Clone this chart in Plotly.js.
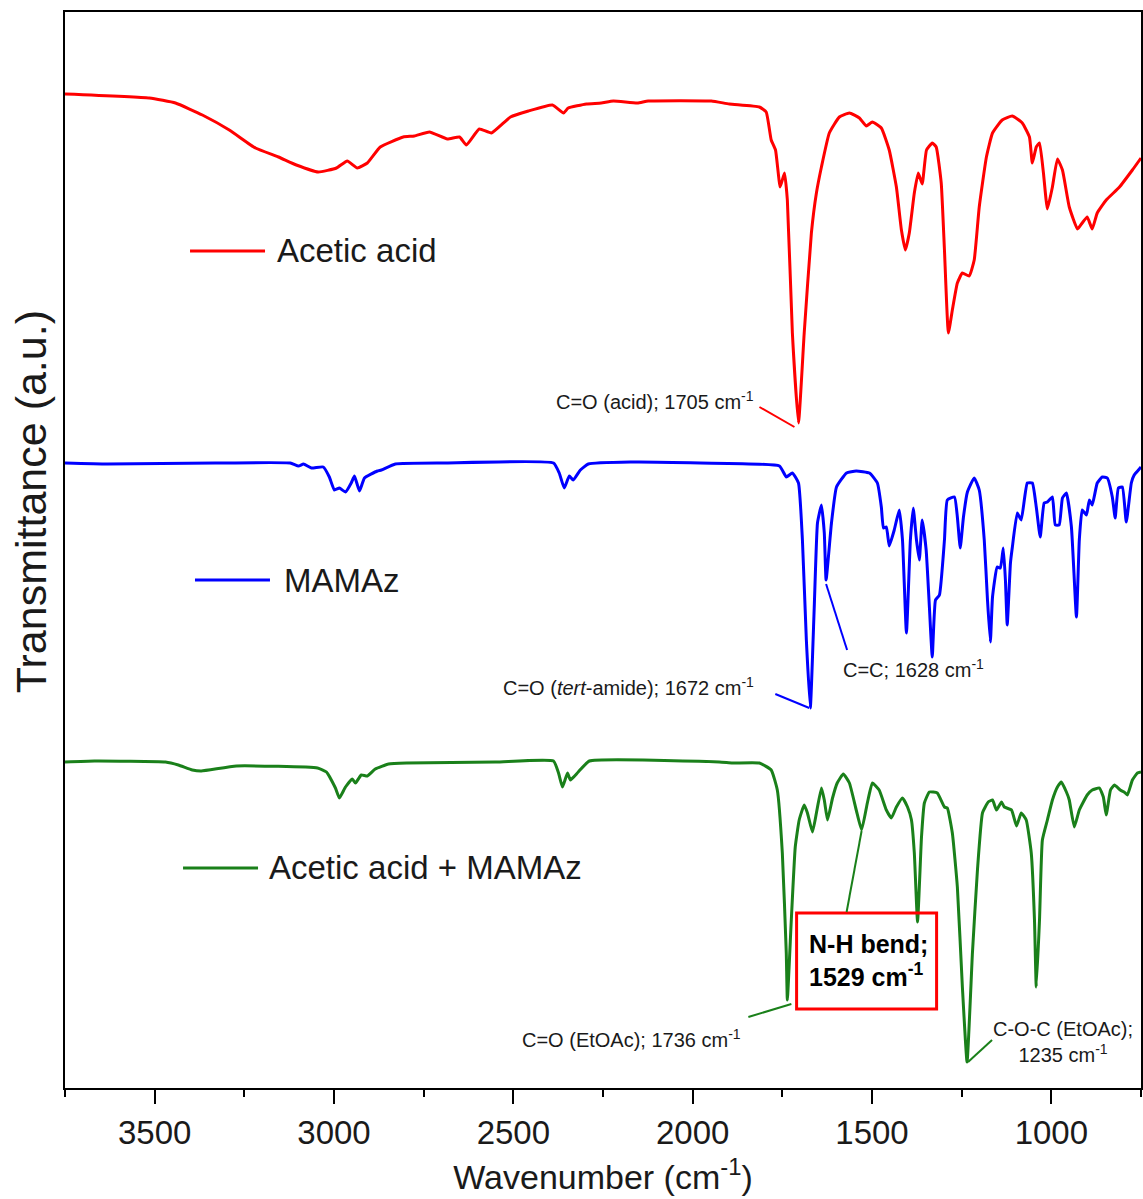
<!DOCTYPE html>
<html>
<head>
<meta charset="utf-8">
<script src="https://cdn.plot.ly/plotly-3.0.1.min.js"></script>
<style>html,body{margin:0;padding:0;background:#fff;}#chart{width:1143px;height:1199px;}</style>
</head>
<body>
<div id="chart"></div>
<script>
// ---- Data (wavenumber in cm-1, transmittance in a.u., offset-stacked) ----
const acidWn = [3750,3515,3442,3367,3292,3219,3155,3105,3044,2993,2963,2935,2907,2871,2807,2776,2734,2684,2650,2631,2595,2561,2508,2458,2391,2360,2347,2296,2255,2221,2154,2124,1948,1898,1814,1795,1781,1769,1756,1744,1736,1722,1705,1689,1669,1655,1641,1619,1591,1563,1535,1516,1499,1474,1452,1432,1418,1407,1396,1382,1371,1360,1348,1332,1321,1307,1298,1287,1276,1262,1248,1229,1215,1201,1181,1164,1137,1109,1081,1061,1053,1042,1033,1022,1011,997,983,969,950,927,914,900,886,872,847,810,774,750];
const acidT  = [994,990,985,973,958,940,931,923,916,920,927,920,925,941,951,952,956,949,951,943,959,955,971,977,983,975,980,984,985,987,985,987,987,984,981,976,948,938,901,915,888,755,665,755,855,895,921,955,971,975,970,962,966,960,938,901,858,838,855,895,915,904,938,945,941,905,838,755,778,805,815,812,828,881,931,955,968,972,965,951,925,941,945,915,879,901,929,918,881,859,865,871,859,875,888,901,918,930];

const mamazWn = [3750,3632,3331,3122,3099,3085,3063,3030,3013,2999,2985,2968,2952,2943,2929,2915,2879,2868,2829,2695,2388,2372,2358,2344,2333,2313,2291,2174,1979,1758,1739,1722,1705,1694,1683,1672,1661,1652,1641,1633,1628,1613,1599,1571,1544,1507,1485,1474,1468,1460,1452,1438,1424,1415,1404,1393,1385,1376,1368,1360,1349,1340,1332,1323,1312,1298,1290,1270,1262,1254,1245,1234,1215,1201,1187,1178,1170,1164,1151,1142,1134,1128,1123,1114,1109,1095,1084,1067,1053,1042,1031,1020,1011,997,989,978,969,958,944,930,922,914,902,894,886,872,858,844,830,822,813,802,791,777,769,757,750];
const mamazT  = [625,624,625,625,622,624,620,621,611,598,600,596,605,612,597,610,617,618,624,625,625,615,600,612,608,618,624,626,625,622,611,615,605,548,448,380,481,565,583,555,508,565,601,615,617,615,605,581,560,561,542,558,578,548,455,548,580,548,528,568,538,481,431,488,493,548,588,591,571,540,571,596,610,598,548,488,446,491,521,520,540,508,463,525,540,575,568,605,605,581,551,585,586,591,563,563,590,595,561,471,548,578,573,588,583,605,611,610,591,570,600,601,566,605,613,618,621];

const mixWn = [3750,3668,3470,3434,3395,3370,3272,3046,3021,2996,2985,2968,2949,2940,2924,2907,2885,2848,2798,2550,2388,2374,2363,2349,2341,2319,2288,1926,1889,1814,1781,1764,1750,1739,1736,1725,1714,1703,1689,1680,1666,1655,1641,1633,1624,1610,1597,1580,1563,1544,1529,1513,1499,1480,1460,1446,1432,1415,1401,1390,1382,1373,1362,1354,1340,1318,1298,1290,1276,1262,1248,1235,1220,1206,1192,1176,1164,1153,1139,1131,1111,1097,1084,1070,1056,1047,1042,1033,1025,1011,997,983,972,958,950,936,922,900,886,866,855,847,835,824,808,797,788,774,760,750];
const mixT  = [326,327,326,323,318,317,322,320,316,300,290,301,309,305,313,312,319,324,325,326,327,315,301,315,308,316,327,326,325,325,318,298,235,135,88,168,241,268,283,275,256,275,300,288,268,290,305,314,305,278,258,285,305,298,278,270,281,290,281,268,235,166,251,285,296,295,281,280,255,201,101,26,135,218,275,286,288,278,286,281,278,262,275,268,235,168,101,168,248,268,288,301,306,296,288,261,278,293,298,300,291,273,298,303,298,296,293,308,315,316];

const seriesNames = ["Acetic acid", "MAMAz", "Acetic acid + MAMAz"];
const seriesColors = ["#ff0000", "#0000ff", "#1a801a"];

// Peak labels: [series index, peak wavenumber, text]
const peakLabels = [
  [0, 1705, "C=O (acid); 1705 cm<sup>-1</sup>"],
  [1, 1672, "C=O (<i>tert</i>-amide); 1672 cm<sup>-1</sup>"],
  [1, 1628, "C=C; 1628 cm<sup>-1</sup>"],
  [2, 1736, "C=O (EtOAc); 1736 cm<sup>-1</sup>"],
  [2, 1529, "<b>N-H bend;</b><br><b>1529 cm<sup>-1</sup></b>"],
  [2, 1235, "C-O-C (EtOAc);<br>1235 cm<sup>-1</sup>"]
];

const xTicks = [3500, 3000, 2500, 2000, 1500, 1000];

// ---- Build ----
const wnArr = [acidWn, mamazWn, mixWn];
const tArr = [acidT, mamazT, mixT];
const traces = wnArr.map((wn, i) => ({
  type: 'scatter', mode: 'lines', x: wn, y: tArr[i], name: seriesNames[i],
  line: {color: seriesColors[i], width: 3, shape: 'spline', smoothing: 0.4},
  showlegend: false, hoverinfo: 'x+y+name'
}));

function valueAt(si, w) {
  const wn = wnArr[si], t = tArr[si];
  let best = 0;
  for (let k = 0; k < wn.length; k++) if (Math.abs(wn[k]-w) < Math.abs(wn[best]-w)) best = k;
  return t[best];
}

const FONT = 'Arial, "Liberation Sans", Helvetica, sans-serif';
const txtColor = '#1a1a1a';

// label placement (pixel offsets from the peak)
const labelStyle = [
  {xanchor:'right', xshift:-42, yshift:23, line:[-39,16,-4,-4]},
  {xanchor:'right', xshift:-54, yshift:22, line:[-35,14,-1,0]},
  {xanchor:'left', xshift:15, yshift:-88, line:[0,-4,21,-70]},
  {xanchor:'right', xshift:-44, yshift:-38, line:[-39,-17,4,-4]},
  {xanchor:'left', xshift:-55, yshift:-130, line:[-15,-82,0,-1], box:[-65,-83,75,-179]},
  {xanchor:'center', xshift:96, yshift:20, line:[1,0,25,22]}
];

const annotations = [];
const shapes = [];
peakLabels.forEach((p, k) => {
  const [si, w, text] = p;
  const yv = valueAt(si, w);
  const st = labelStyle[k];
  const a = {
    x: w, y: yv, xref: 'x', yref: 'y', text: text, showarrow: false,
    xanchor: st.xanchor, yanchor: 'middle', xshift: st.xshift, yshift: st.yshift,
    font: {family: FONT, size: 20, color: txtColor}, align: 'center'
  };
  if (st.box) {
    a.font = {family: FONT, size: 25, color: '#000'};
    a.align = 'left';
    shapes.push({
      type: 'rect', xref: 'x', yref: 'y', xsizemode: 'pixel', ysizemode: 'pixel',
      xanchor: w, yanchor: yv, x0: st.box[0], y0: st.box[1], x1: st.box[2], y1: st.box[3],
      line: {color: '#ff0000', width: 3}, fillcolor: 'rgba(0,0,0,0)'
    });
  }
  annotations.push(a);
  shapes.push({
    type: 'line', xref: 'x', yref: 'y', xsizemode: 'pixel', ysizemode: 'pixel',
    xanchor: w, yanchor: yv,
    x0: st.line[0], y0: st.line[1], x1: st.line[2], y1: st.line[3],
    line: {color: seriesColors[si], width: 2}
  });
});

// in-plot legend entries (paper coords)
const legendPos = [
  {x0: 0.1162, x1: 0.1859, y: 0.7779, tx: 0.1952},
  {x0: 0.1208, x1: 0.1905, y: 0.4721, tx: 0.2017},
  {x0: 0.1097, x1: 0.1794, y: 0.2045, tx: 0.1877}
];
legendPos.forEach((lp, i) => {
  shapes.push({type: 'line', xref: 'paper', yref: 'paper', x0: lp.x0, x1: lp.x1, y0: lp.y, y1: lp.y,
    line: {color: seriesColors[i], width: 3}});
  annotations.push({xref: 'paper', yref: 'paper', x: lp.tx, y: lp.y, xanchor: 'left', yanchor: 'middle',
    text: seriesNames[i], showarrow: false, font: {family: FONT, size: 33, color: txtColor}});
});

// y axis title
annotations.push({xref: 'paper', yref: 'paper', x: -0.032, y: 0.545, textangle: -90,
  text: 'Transmittance (a.u.)', showarrow: false, xanchor: 'center', yanchor: 'middle',
  font: {family: FONT, size: 43, color: txtColor}});

const layout = {
  width: 1143, height: 1199,
  margin: {l: 65, r: 2, t: 12, b: 111},
  paper_bgcolor: '#fff', plot_bgcolor: '#fff',
  showlegend: false,
  xaxis: {
    range: [3750, 750], showgrid: false, zeroline: false,
    showline: true, mirror: true, linecolor: '#000', linewidth: 2,
    ticks: 'outside', ticklen: 14, tickwidth: 2, tickcolor: '#000',
    tickmode: 'array', tickvals: xTicks, ticktext: xTicks.map(String),
    minor: {ticks: 'outside', ticklen: 7, tickwidth: 2, tickcolor: '#000', dtick: 250, tick0: 0},
    tickfont: {family: FONT, size: 33, color: txtColor},
    title: {text: 'Wavenumber (cm<sup>-1</sup>)', font: {family: FONT, size: 34, color: txtColor}, standoff: 16}
  },
  yaxis: {
    range: [0, 1076], showgrid: false, zeroline: false,
    showline: true, mirror: true, linecolor: '#000', linewidth: 2,
    ticks: '', showticklabels: false
  },
  annotations: annotations,
  shapes: shapes
};

Plotly.newPlot('chart', traces, layout, {displayModeBar: false, staticPlot: true});
</script>
</body>
</html>
